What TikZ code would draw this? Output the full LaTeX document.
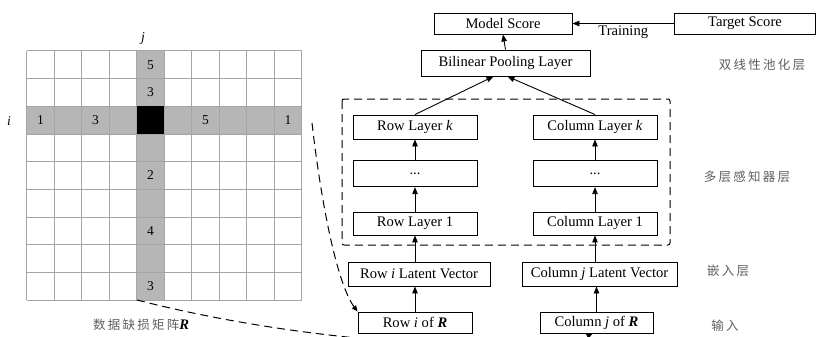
\documentclass[tikz,border=0pt]{standalone}
\usepackage{fontspec}
\setmainfont{Liberation Serif}
\newfontfamily\cjk[LetterSpace=18]{Noto Sans CJK SC}
\usetikzlibrary{arrows.meta}
\definecolor{gridline}{RGB}{165,165,165}
\definecolor{cellshade}{RGB}{182,182,182}
\definecolor{cjkgray}{RGB}{95,95,95}
\tikzset{
  x=1pt, y=-1pt,
  box/.style={draw, line width=0.9pt, inner sep=0pt, font=\fontsize{14.6}{17}\selectfont},
  arr/.style={-{Triangle[length=7pt,width=5.5pt]}, line width=0.9pt},
  dashline/.style={dash pattern=on 8pt off 5pt, line width=1pt},
  zhlabel/.style={font=\fontsize{12.5}{15}\selectfont\cjk, text=cjkgray},
  cellnum/.style={font=\fontsize{13.5}{16}\selectfont}
}
\begin{document}
\begin{tikzpicture}
\clip (0,0) rectangle (816,337);
\fill[white] (0,0) rectangle (816,337);

% ---- rating matrix R ----
\def\gx{26.7}\def\gy{51}\def\cw{27.5}\def\ch{27.67}
\fill[cellshade] (\gx+4*\cw,\gy) rectangle (\gx+5*\cw,\gy+9*\ch);
\fill[cellshade] (\gx,\gy+2*\ch) rectangle (\gx+10*\cw,\gy+3*\ch);
\foreach \c in {0,...,10}
  \draw[gridline, line width=1pt] (\gx+\c*\cw,\gy) -- (\gx+\c*\cw,\gy+9*\ch);
\foreach \r in {0,...,9}
  \draw[gridline, line width=1pt] (\gx,\gy+\r*\ch) -- (\gx+10*\cw,\gy+\r*\ch);
\fill[black] (\gx+4*\cw,\gy+2*\ch) rectangle (\gx+5*\cw,\gy+3*\ch);

\foreach \r/\v in {0/5,1/3,4/2,6/4,8/3}
  \node[cellnum] (cj\r) at (\gx+4.5*\cw,\gy+\r*\ch+0.5*\ch) {\v};
\foreach \c/\v in {0/1,2/3,6/5,9/1}
  \node[cellnum] (ri\c) at (\gx+\c*\cw+0.5*\cw,\gy+2.5*\ch) {\v};

\node[font=\fontsize{13.5}{16}\selectfont\itshape] (jlab) at (143,38) {j};
\node[font=\fontsize{13.5}{16}\selectfont\itshape] (ilab) at (9,121) {i};
\node[zhlabel, anchor=center] (cap) at (141,325) {数据缺损矩阵\textcolor{black}{\normalfont\fontsize{14.6}{17}\selectfont\bfseries\itshape R}};

\coordinate (rowexit) at (312,123);
\coordinate (colexit) at (137,300);

% ---- network ----
\node[box, minimum width=138pt, minimum height=21pt] (model) at (503,23.5) {Model Score};
\node[box, minimum width=141pt, minimum height=21pt] (target) at (745,23.5) {Target Score};
\node[box, minimum width=169pt, minimum height=26pt] (bil) at (505.5,63) {Bilinear Pooling Layer};

\node[box, minimum width=124pt, minimum height=24pt] (rowk) at (415,127) {Row Layer \textit{k}};
\node[box, minimum width=124pt, minimum height=26pt] (rowd) at (415,173.7) {...};
\node[box, minimum width=124pt, minimum height=23pt] (row1) at (415,223.5) {Row Layer 1};
\node[box, minimum width=124pt, minimum height=24pt] (colk) at (595,127) {Column Layer \textit{k}};
\node[box, minimum width=124pt, minimum height=26pt] (cold) at (595,173.7) {...};
\node[box, minimum width=124pt, minimum height=23pt] (col1) at (595,223.5) {Column Layer 1};

\draw[dashline, rounded corners=2pt] (342,99) rectangle (670,245);

\node[box, minimum width=142pt, minimum height=24pt] (rowlat) at (419,274) {Row \textit{i} Latent Vector};
\node[box, minimum width=155pt, minimum height=24pt] (collat) at (599.5,274) {Column \textit{j} Latent Vector};
\node[box, minimum width=114pt, minimum height=21pt] (rowin) at (415,322.5) {Row \textit{i} of \textbf{\textit{R}}};
\node[box, minimum width=113pt, minimum height=21pt] (colin) at (596.5,322.5) {Column \textit{j} of \textbf{\textit{R}}};

% vertical data flow
\draw[arr] (rowin.north) -- (rowin.north |- rowlat.south);
\draw[arr] (rowlat.north -| row1.south) -- (row1.south);
\draw[arr] (row1.north) -- (rowd.south);
\draw[arr] (rowd.north) -- (rowk.south);
\draw[arr] (colin.north) -- (colin.north |- collat.south);
\draw[arr] (collat.north -| col1.south) -- (col1.south);
\draw[arr] (col1.north) -- (cold.south);
\draw[arr] (cold.north) -- (colk.south);
\draw[arr] (rowk.north) -- ([xshift=-12pt]bil.south);
\draw[arr] (colk.north) -- ([xshift=2pt]bil.south);
\draw[arr] (bil.north) -- (model.south);
\draw[arr] (target.west) -- node[below=-1pt, font=\fontsize{14.6}{17}\selectfont] (trainlab) {Training} (model.east);

% links from the matrix to the inputs
\draw[dashline, -{Triangle[length=6pt,width=5pt]}] (rowexit) .. controls (322,210) and (338,285) .. (rowin.north west);
\draw[dashline, -{Triangle[length=6pt,width=5pt]}] (colexit) .. controls (340,352) and (560,352) .. ([xshift=-4pt]colin.south);

% layer names
\node[zhlabel] (zh1) at (762,65) {双线性池化层};
\node[zhlabel] (zh2) at (747,177) {多层感知器层};
\node[zhlabel] (zh3) at (728,271) {嵌入层};
\node[zhlabel] (zh4) at (725,326) {输入};
\end{tikzpicture}
\end{document}
